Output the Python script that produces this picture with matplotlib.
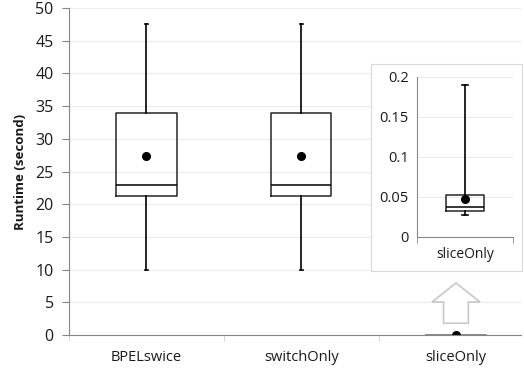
import matplotlib
matplotlib.use("Agg")
import matplotlib.pyplot as plt
from matplotlib.patches import Rectangle, FancyArrow

plt.rcParams['font.family'] = ['Open Sans', 'DejaVu Sans']

# data
categories = ['BPELswice', 'switchOnly', 'sliceOnly']
whislo = [10.0, 10.0, 0.028]
q1 = [21.3, 21.3, 0.033]
med = [23.0, 23.0, 0.038]
q3 = [34.0, 34.0, 0.052]
whishi = [47.5, 47.5, 0.19]
means = [27.3, 27.3, 0.047]

stats = []
for i, c in enumerate(categories):
    stats.append(dict(label=c, whislo=whislo[i], q1=q1[i], med=med[i],
                      q3=q3[i], whishi=whishi[i], mean=means[i]))

txt = '#1a1a1a'
fig = plt.figure(figsize=(5.24, 3.76), dpi=100)
ax = fig.add_axes([0.1317, 0.109, 0.8626, 0.8697])

box_kw = dict(boxprops=dict(color='#262626', lw=1.1),
              medianprops=dict(color='#000000', lw=1.1),
              whiskerprops=dict(color='#000000', lw=1.2),
              capprops=dict(color='#000000', lw=1.2),
              meanprops=dict(marker='o', markerfacecolor='black',
                             markeredgecolor='black', markersize=5.5),
              showmeans=True, showfliers=False, patch_artist=False)

b = ax.bxp(stats, positions=[0, 1, 2], widths=0.39, capwidths=0.02, **box_kw)
# the tiny sliceOnly box is only a flat gray line at this scale
for art in [b['boxes'][2], b['medians'][2]]:
    art.set_color('#8c8c8c')

ax.set_xlim(-0.5, 2.42)
ax.set_ylim(0, 50)
ax.set_yticks(range(0, 51, 5))
ax.set_xticks([0, 1, 2])
ax.set_xticklabels(categories)
ax.set_xticks([-0.5, 0.5, 1.5], minor=True)
ax.tick_params(axis='x', which='major', length=0, pad=11, labelsize=10.5, colors=txt)
ax.tick_params(axis='x', which='minor', length=4, color='#d0d0d0')
ax.tick_params(axis='y', length=5, color='#868686', labelsize=11.5, labelcolor=txt, pad=6)
ax.grid(axis='y', color='#ececec', lw=0.8)
ax.set_axisbelow(True)
for s in ['top', 'right']:
    ax.spines[s].set_visible(False)
for s in ['left', 'bottom']:
    ax.spines[s].set_color('#868686')
ax.set_ylabel('Runtime (second)', fontsize=9.5, fontweight='bold', color=txt, labelpad=6)

# hollow arrow pointing up to the zoomed view
ax.add_patch(FancyArrow(2, 1.8, 0, 6.15, width=0.16, head_width=0.31,
                        head_length=2.9, length_includes_head=True,
                        facecolor='white', edgecolor='#c8c8c8', lw=1.2, zorder=3))

# inset frame
fig.patches.append(Rectangle((371 / 524, 1 - 271 / 376), 151 / 524, 207 / 376,
                             transform=fig.transFigure, facecolor='white',
                             edgecolor='#d9d9d9', lw=0.8, zorder=2))

ins = fig.add_axes([417 / 524, 1 - 237 / 376, 96 / 524, 160 / 376], zorder=3)
ins.patch.set_alpha(0)
ins.bxp([stats[2]], positions=[0], widths=0.4, capwidths=0.06, **box_kw)
ins.set_xlim(-0.5, 0.5)
ins.set_ylim(0, 0.2)
ins.set_yticks([0, 0.05, 0.1, 0.15, 0.2])
ins.set_yticklabels(['0', '0.05', '0.1', '0.15', '0.2'])
ins.set_xticks([0])
ins.set_xticklabels(['sliceOnly'])
ins.set_xticks([-0.5, 0.5], minor=True)
ins.tick_params(axis='x', which='major', length=0, pad=7, labelsize=10, colors=txt)
ins.tick_params(axis='x', which='minor', length=4, color='#868686')
ins.tick_params(axis='y', length=0, labelsize=10.5, labelcolor=txt, pad=6)
ins.grid(axis='y', color='#ececec', lw=0.8)
ins.set_axisbelow(True)
for s in ['top', 'right']:
    ins.spines[s].set_visible(False)
for s in ['left', 'bottom']:
    ins.spines[s].set_color('#868686')

fig.savefig('out.png', dpi=100)
